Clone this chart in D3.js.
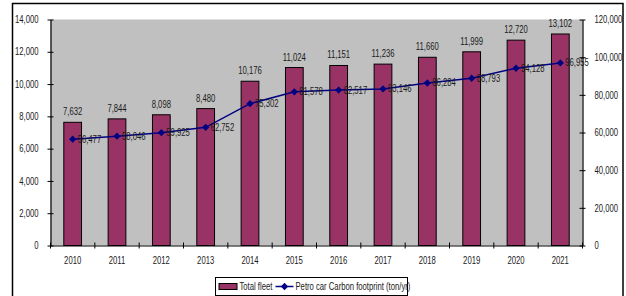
<!DOCTYPE html>
<html>
<head>
<meta charset="utf-8">
<script src="https://cdn.jsdelivr.net/npm/d3@7"></script>
<style>
  body { margin: 0; background: #fff; }
  text { font-family: "Liberation Sans", Arial, sans-serif; font-size: 10px; fill: #1a1a1a; }
</style>
</head>
<body>
<div id="chart"></div>
<script>
const years = ["2010", "2011", "2012", "2013", "2014", "2015", "2016", "2017", "2018", "2019", "2020", "2021"];
const totalFleet = [7632, 7844, 8098, 8480, 10176, 11024, 11151, 11236, 11660, 11999, 12720, 13102];
const carbonFootprint = [56477, 58046, 59925, 62752, 75302, 81578, 82517, 83146, 86284, 88793, 94128, 96955];
const leftTicks = [0, 2000, 4000, 6000, 8000, 10000, 12000, 14000];
const rightTicks = [0, 20000, 40000, 60000, 80000, 100000, 120000];

const width = 626;
const height = 296;
const plot = { left: 50.5, right: 582.5, top: 19.5, bottom: 245.5 };

const svg = d3.select("#chart")
  .append("svg")
  .attr("width", width)
  .attr("height", height);

// outer frame
svg.append("rect")
  .attr("x", 12.5).attr("y", 3.5)
  .attr("width", 610.5).attr("height", 300)
  .attr("fill", "none").attr("stroke", "#000").attr("stroke-width", 1.5);

const x = d3.scaleBand()
  .domain(years)
  .range([plot.left, plot.right])
  .paddingInner(0.6)
  .paddingOuter(0.3);

const yLeft = d3.scaleLinear().domain([0, 14000]).range([plot.bottom, plot.top]);
const yRight = d3.scaleLinear().domain([0, 120000]).range([plot.bottom, plot.top]);

svg.append("rect")
  .attr("x", plot.left).attr("y", plot.top)
  .attr("width", plot.right - plot.left).attr("height", plot.bottom - plot.top)
  .attr("fill", "#c0c0c0");

const fmt = d3.format(",");

// bars
svg.selectAll("rect.bar")
  .data(years)
  .enter()
  .append("rect")
  .attr("class", "bar")
  .attr("x", d => x(d))
  .attr("y", (d, i) => yLeft(totalFleet[i]))
  .attr("width", x.bandwidth())
  .attr("height", (d, i) => plot.bottom - yLeft(totalFleet[i]))
  .attr("fill", "#993366")
  .attr("stroke", "#000")
  .attr("stroke-width", 1);

svg.selectAll("text.barlabel")
  .data(years)
  .enter()
  .append("text")
  .attr("class", "barlabel")
  .attr("x", d => x(d) + x.bandwidth() / 2)
  .attr("y", (d, i) => yLeft(totalFleet[i]) - 7)
  .attr("text-anchor", "middle")
  .text((d, i) => fmt(totalFleet[i]));

// axes
const leftAxis = svg.append("g")
  .attr("transform", `translate(${plot.left},0)`)
  .call(d3.axisLeft(yLeft).tickValues(leftTicks).tickFormat(fmt).tickSizeOuter(0).tickPadding(6));
leftAxis.selectAll(".tick line").attr("x1", 3).attr("x2", -3);

const rightAxis = svg.append("g")
  .attr("transform", `translate(${plot.right},0)`)
  .call(d3.axisRight(yRight).tickValues(rightTicks).tickFormat(fmt).tickSizeOuter(0).tickPadding(6));
rightAxis.selectAll(".tick line").attr("x1", -3).attr("x2", 3);

const xAxis = svg.append("g")
  .attr("transform", `translate(0,${plot.bottom})`)
  .call(d3.axisBottom(x).tickSize(0).tickSizeOuter(0).tickPadding(11));

// category separators on x axis
const xTicks = d3.range(years.length + 1).map(i => plot.left + i * x.step());
svg.selectAll("line.xtick")
  .data(xTicks)
  .enter()
  .append("line")
  .attr("x1", d => d).attr("x2", d => d)
  .attr("y1", plot.bottom - 3).attr("y2", plot.bottom + 3)
  .attr("stroke", "#000");

[leftAxis, rightAxis, xAxis].forEach(g => {
  g.selectAll(".domain").attr("stroke", "#000").attr("stroke-width", 1.2);
  g.attr("font-family", null).attr("font-size", null);
  g.selectAll("text").attr("fill", "#1a1a1a");
});

// line series
const line = d3.line()
  .x((d, i) => x(years[i]) + x.bandwidth() / 2)
  .y(d => yRight(d));

svg.append("path")
  .datum(carbonFootprint)
  .attr("d", line)
  .attr("fill", "none")
  .attr("stroke", "#000080")
  .attr("stroke-width", 1.5);

const diamond = d3.symbol().type(d3.symbolDiamond2).size(34);
svg.selectAll("path.marker")
  .data(carbonFootprint)
  .enter()
  .append("path")
  .attr("class", "marker")
  .attr("transform", (d, i) => `translate(${x(years[i]) + x.bandwidth() / 2},${yRight(d)})`)
  .attr("d", diamond)
  .attr("fill", "#000080");

svg.selectAll("text.linelabel")
  .data(carbonFootprint)
  .enter()
  .append("text")
  .attr("class", "linelabel")
  .attr("x", (d, i) => x(years[i]) + x.bandwidth() / 2 + 5)
  .attr("y", d => yRight(d) + 3.5)
  .text(d => fmt(d));

// legend
const legend = svg.append("g").attr("transform", "translate(215.5,277.5)");
legend.append("rect")
  .attr("width", 192).attr("height", 18)
  .attr("fill", "#fff").attr("stroke", "#000").attr("stroke-width", 1);
legend.append("rect")
  .attr("x", 3.5).attr("y", 6).attr("width", 18).attr("height", 6)
  .attr("fill", "#993366").attr("stroke", "#000");
legend.append("text").attr("x", 24).attr("y", 12.5).text("Total fleet");
legend.append("line")
  .attr("x1", 60).attr("x2", 78).attr("y1", 9).attr("y2", 9)
  .attr("stroke", "#000080").attr("stroke-width", 1.5);
legend.append("path")
  .attr("transform", "translate(69,9)")
  .attr("d", diamond)
  .attr("fill", "#000080");
legend.append("text").attr("x", 80).attr("y", 12.5).text("Petro car Carbon footprint (ton/yr)");

// the source uses a narrow face; squeeze every label horizontally about its anchor
const squeeze = 0.77;
svg.selectAll("text").each(function () {
  const ax = +(this.getAttribute("x") || 0);
  d3.select(this).attr("transform", `translate(${ax * (1 - squeeze)},0) scale(${squeeze},1)`);
});
</script>
</body>
</html>
